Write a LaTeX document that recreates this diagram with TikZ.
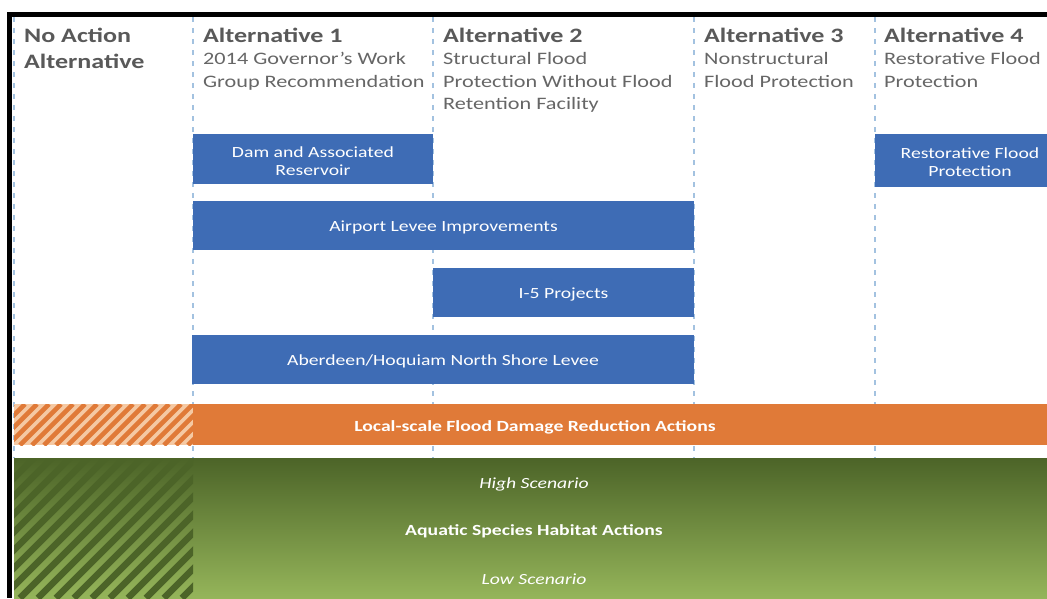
\documentclass[tikz,border=0pt]{standalone}
\usepackage{fontspec}
\setmainfont{Carlito}[FakeStretch=1.27]
\definecolor{hdr}{HTML}{595959}
\definecolor{sub}{HTML}{666666}
\definecolor{vl}{HTML}{A3C2E0}
\definecolor{bblue}{HTML}{3E6CB5}
\definecolor{orng}{HTML}{E07A38}
\definecolor{lorng}{HTML}{F5C9A3}
\definecolor{gtop}{HTML}{4C6428}
\definecolor{gbot}{HTML}{95B55A}
\tikzset{
  vline/.style={draw=vl, line width=1.2pt, dash pattern=on 5pt off 6pt},
  bbox/.style={fill=bblue, draw=none, inner sep=0pt, text=white, align=center,
    font=\fontsize{15.5}{18.5}\selectfont},
  btxt/.style={text=white, inner sep=0pt, align=center, font=\fontsize{15.5}{18.5}\selectfont},
  head/.style={anchor=base west, inner sep=0pt, text=hdr, font=\fontsize{20.5}{24}\selectfont\bfseries},
  subt/.style={anchor=base west, inner sep=0pt, text=sub, font=\fontsize{17.5}{22}\selectfont},
  bandtxt/.style={text=white, inner sep=0pt, font=\fontsize{15.5}{18}\selectfont\bfseries},
  scen/.style={text=white, inner sep=0pt, font=\fontsize{15.5}{18}\selectfont\itshape},
}
\begin{document}
\begin{tikzpicture}[x=1pt,y=-1pt]
\useasboundingbox (0,0) rectangle (1047,598);
\fill[white] (0,0) rectangle (1047,598);
% dashed column separators
\foreach \x in {14,193,433,694,875} \draw[vline] (\x,17) -- (\x,458);
% frame
\fill[black] (7,12) rectangle (1047,16.5);
\fill[black] (7,12) rectangle (12,598);
% headers
\node[head] (h0a) at (24,42) {No Action};
\node[head] (h0b) at (24,68) {Alternative};
\node[head] (h1) at (203,42) {Alternative 1};
\node[subt] (s1a) at (203,64) {2014 Governor’s Work};
\node[subt] (s1b) at (203,87) {Group Recommendation};
\node[head] (h2) at (443,42) {Alternative 2};
\node[subt] (s2a) at (443,64) {Structural Flood};
\node[subt] (s2b) at (443,87) {Protection Without Flood};
\node[subt] (s2c) at (443,109) {Retention Facility};
\node[head] (h3) at (704,42) {Alternative 3};
\node[subt] (s3a) at (704,64) {Nonstructural};
\node[subt] (s3b) at (704,87) {Flood Protection};
\node[head] (h4) at (884,42) {Alternative 4};
\node[subt] (s4a) at (884,64) {Restorative Flood};
\node[subt] (s4b) at (884,87) {Protection};
% blue boxes
\node[bbox, minimum width=240pt, minimum height=50pt] (dam) at (313,159) {};
\node[btxt] (damt) at (313,161) {Dam and Associated\\Reservoir};
\node[bbox, minimum width=501pt, minimum height=49pt] (air) at (443.5,225.5) {};
\node[btxt] (airt) at (443.5,227.5) {Airport Levee Improvements};
\node[bbox, minimum width=261pt, minimum height=49pt] (i5) at (563.5,292.5) {};
\node[btxt] (i5t) at (563.5,294.5) {I-5 Projects};
\node[bbox, minimum width=502pt, minimum height=49pt] (abd) at (443,359.5) {};
\node[btxt] (abdt) at (443,361.5) {Aberdeen/Hoquiam North Shore Levee};
\node[bbox, minimum width=190pt, minimum height=53pt] (rest) at (970,160.5) {};
\node[btxt] (restt) at (970,162) {Restorative Flood\\Protection};
% orange band
\fill[orng] (193,404) rectangle (1060,445);
\fill[lorng] (14,404) rectangle (193,445);
\begin{scope}
  \clip (14,404) rectangle (193,445);
  \foreach \i in {-40,-28,...,200} \draw[orng, line width=4.6pt] (\i,445) -- ++(41,-41);
\end{scope}
\node[bandtxt] (loc) at (535,427) {Local-scale Flood Damage Reduction Actions};
% green band
\shade[top color=gtop, bottom color=gbot] (14,458) rectangle (1060,598);
\begin{scope}
  \clip (14,458) rectangle (193,598);
  \foreach \i in {-160,-142,...,200} \draw[gtop, line width=6.5pt] (\i,598) -- ++(140,-140);
\end{scope}
\node[scen] (hi) at (534,484) {High Scenario};
\node[bandtxt] (aq) at (534,531) {Aquatic Species Habitat Actions};
\node[scen] (lo) at (534,579) {Low Scenario};
\end{tikzpicture}
\end{document}
